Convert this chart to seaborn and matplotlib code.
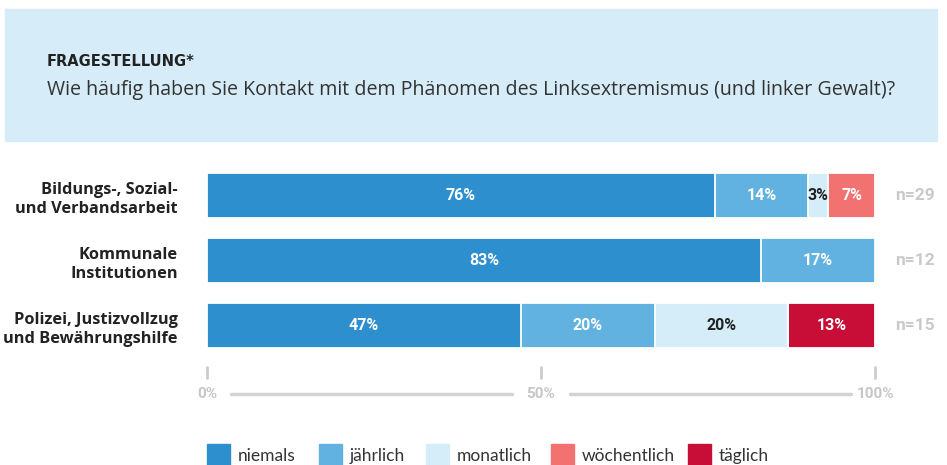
import matplotlib
matplotlib.use("Agg")
import matplotlib.pyplot as plt
import seaborn as sns
import numpy as np
import pandas as pd
from matplotlib.patches import Rectangle
from matplotlib.lines import Line2D

# ---------------- data ----------------
categories = ["Bildungs-, Sozial-\nund Verbandsarbeit",
              "Kommunale\nInstitutionen",
              "Polizei, Justizvollzug\nund Bewährungshilfe"]
series_names = ["niemals", "jährlich", "monatlich", "wöchentlich", "täglich"]
niemals = [76, 83, 47]
jaehrlich = [14, 17, 20]
monatlich = [3, 0, 20]
woechentlich = [7, 0, 0]
taeglich = [0, 0, 13]
n_values = [29, 12, 15]
tick_values = [0, 50, 100]
tick_labels = ["0%", "50%", "100%"]
title_small = "FRAGESTELLUNG*"
question = "Wie häufig haben Sie Kontakt mit dem Phänomen des Linksextremismus (und linker Gewalt)?"

colors = ["#2e8fcf", "#61b2e0", "#d5ecf9", "#f27272", "#c80d36"]
label_colors = ["white", "white", "#222222", "white", "white"]

sns.set_theme(style="white")
plt.rcParams["font.family"] = ["Open Sans", "DejaVu Sans"]

W, H = 947, 465
fig = plt.figure(figsize=(W / 100, H / 100), dpi=100)

def fx(px):
    return px / W

def fy(py):
    return 1 - py / H

# header box
fig.patches.append(Rectangle((fx(5), fy(141)), fx(937) - fx(5), fy(9) - fy(141),
                             transform=fig.transFigure, color="#d6edf9", zorder=0))
fig.text(fx(47), fy(61), title_small, fontsize=10.5, fontweight="bold", color="#222222",
         va="center", ha="left", family=["DejaVu Sans"])
fig.text(fx(47), fy(90), question, fontsize=14.1, color="#333333", va="center", ha="left",
         family=["Open Sans", "DejaVu Sans"])

# main axes
ax_left, ax_right = 207, 875
ax_top, ax_bottom = 163, 358
ax = fig.add_axes([fx(ax_left), fy(ax_bottom), fx(ax_right) - fx(ax_left), (ax_bottom - ax_top) / H])

series = [niemals, jaehrlich, monatlich, woechentlich, taeglich]
cum = np.cumsum(np.array(series), axis=0)

# draw cumulative bars from largest to smallest (stacked look)
for i in range(len(series) - 1, -1, -1):
    df = pd.DataFrame({"cat": categories, "val": cum[i]})
    sns.barplot(data=df, x="val", y="cat", orient="h", color=colors[i], width=45 / 65,
                edgecolor="white", linewidth=1.3, saturation=1, ax=ax)

# segment labels
starts = cum - np.array(series)
for i, s in enumerate(series):
    for j, v in enumerate(s):
        if v > 0:
            ax.text(starts[i][j] + v / 2, j, f"{v}%", ha="center", va="center",
                    fontsize=11.5, fontweight="bold", color=label_colors[i],
                    family=["Roboto", "DejaVu Sans"])

# n labels
for j, nv in enumerate(n_values):
    ax.text(103, j, f"n={nv}", ha="left", va="center", fontsize=12.5, fontweight="bold",
            color="#c9c9c9", family=["Roboto", "DejaVu Sans"])

ax.set_xlim(0, 100)
ax.set_ylim(2.5, -0.5)
ax.set_xlabel("")
ax.set_ylabel("")
ax.set_xticks([])
ax.set_yticks(range(len(categories)))
ax.set_yticklabels(categories, fontsize=11.8, fontweight="bold", color="#222222",
                   linespacing=1.3, family=["Open Sans", "DejaVu Sans"])
ax.tick_params(axis="y", length=0, pad=21)
for sp in ax.spines.values():
    sp.set_visible(False)

# custom x axis
trans = ax.get_xaxis_transform()
def afy(py):
    return (ax_bottom - py) / (ax_bottom - ax_top)

for tv, tl in zip(tick_values, tick_labels):
    ax.add_line(Line2D([tv, tv], [afy(367), afy(378)], transform=trans, color="#cccccc",
                       lw=2, clip_on=False))
    ax.text(tv, afy(394), tl, transform=trans, ha="center", va="center", fontsize=11,
            fontweight="bold", color="#c6c6c6", family=["Roboto", "DejaVu Sans"], clip_on=False)
# horizontal line segments between labels
gap_px = [(231, 512), (570, 851)]
for a, b in gap_px:
    ax.add_line(Line2D([(a - ax_left) / (ax_right - ax_left) * 100,
                        (b - ax_left) / (ax_right - ax_left) * 100],
                       [afy(394), afy(394)], transform=trans, color="#d3d3d3", lw=2.5,
                       clip_on=False))

# legend
leg_x = [207, 319, 426, 551, 688]
for name, col, x0 in zip(series_names, colors, leg_x):
    fig.patches.append(Rectangle((fx(x0), fy(466)), fx(23), fy(444) - fy(466),
                                 transform=fig.transFigure, color=col))
    fig.text(fx(x0 + 31), fy(456), name, fontsize=12.5, color="#333333", va="center",
             ha="left", family=["Lato", "DejaVu Sans"])

fig.savefig("out.png", dpi=100, facecolor="white")
